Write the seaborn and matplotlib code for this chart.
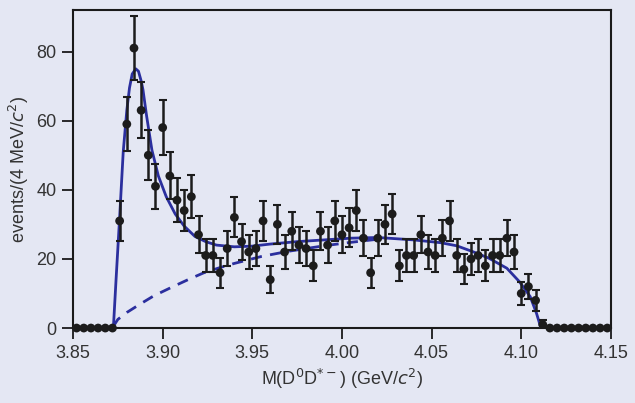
import numpy as np
import pandas as pd
import matplotlib
matplotlib.use('Agg')
import matplotlib.pyplot as plt
import seaborn as sns

# Data: 4 MeV bins from 3.852 to 4.148 GeV
bin_centers = np.round(np.arange(3.852, 4.1495, 0.004), 3)
counts = [0, 0, 0, 0, 0, 0,
          31, 59, 81, 63, 50, 41, 58, 44, 37, 34, 38, 27, 21, 21,
          16, 23, 32, 25, 22, 23, 31, 14, 30, 22, 28, 24, 23, 18,
          28, 24, 31, 27, 29, 34, 26, 16, 26, 30, 33, 18, 21, 21,
          27, 22, 21, 26, 31, 21, 17, 20, 21, 18, 21, 21, 26, 22,
          10, 12, 8, 1,
          0, 0, 0, 0, 0, 0, 0, 0, 0]
errors = [0, 0, 0, 0, 0, 0,
          5.8, 7.9, 9.2, 8.1, 7.2, 6.6, 7.9, 6.8, 6.3, 6.0, 6.3, 5.4, 4.8, 4.8,
          4.3, 5.0, 5.8, 5.2, 4.9, 5.0, 5.8, 4.0, 5.7, 4.9, 5.5, 5.1, 5.0, 4.5,
          5.5, 5.1, 5.8, 5.4, 5.6, 6.0, 5.3, 4.3, 5.3, 5.7, 5.9, 4.5, 4.8, 4.8,
          5.4, 4.9, 4.8, 5.3, 5.8, 4.8, 4.4, 4.7, 4.8, 4.5, 4.8, 4.8, 5.3, 4.9,
          3.4, 3.7, 3.0, 1.2,
          0, 0, 0, 0, 0, 0, 0, 0, 0]

# Total fit (solid) and background (dashed)
fit_x = [3.8725, 3.874, 3.876, 3.878, 3.880, 3.8815, 3.883, 3.885, 3.8865,
         3.888, 3.889, 3.891, 3.894, 3.8976, 3.902, 3.907, 3.912, 3.918,
         3.924, 3.930, 3.940, 3.950, 3.960, 3.975, 3.990, 4.005, 4.020,
         4.040, 4.055, 4.064, 4.073, 4.082, 4.092, 4.099, 4.105, 4.1085, 4.111]
fit_y = [0, 14, 32, 51, 63, 69.5, 73.5, 75, 74.3,
         71.5, 69, 61.5, 51.5, 44, 38, 33, 29.5, 26.5,
         25, 24, 23.5, 23.7, 24.3, 25, 25.5, 26, 26.2,
         25.5, 24.7, 23.8, 22.1, 20.2, 17.3, 13.4, 9.1, 4.3, 0]
bkg_x = [3.8725, 3.875, 3.880, 3.887, 3.895, 3.905, 3.915, 3.923, 3.932,
         3.940, 3.955, 3.970, 3.990, 4.005, 4.025]
bkg_y = [0.5, 2.5, 4.5, 6.8, 9.3, 11.8, 14.2, 16, 17.5,
         18.7, 20.7, 22.2, 23.8, 24.8, 26.0]

df = pd.DataFrame({'mass': bin_centers, 'events': counts, 'err': errors})
fit = pd.DataFrame({'mass': fit_x, 'events': fit_y})
bkg = pd.DataFrame({'mass': bkg_x, 'events': bkg_y})

bg = '#e4e7f3'
line_col = '#2b2f9e'

sns.set_theme(style='ticks')
plt.rcParams['font.family'] = ['Liberation Sans Narrow', 'Liberation Sans', 'DejaVu Sans']
plt.rcParams['mathtext.fontset'] = 'custom'
plt.rcParams['mathtext.rm'] = 'Liberation Sans Narrow'
plt.rcParams['mathtext.it'] = 'Liberation Sans Narrow:italic'

fig = plt.figure(figsize=(6.35, 4.03), dpi=100, facecolor=bg)
ax = fig.add_axes([0.115, 0.186, 0.847, 0.789])
ax.set_facecolor(bg)

sns.lineplot(data=bkg, x='mass', y='events', ax=ax, color=line_col, lw=2,
             linestyle=(0, (4, 3)), sort=False, estimator=None, zorder=2)
sns.lineplot(data=fit, x='mass', y='events', ax=ax, color=line_col, lw=2,
             sort=False, estimator=None, zorder=3)

nz = df[df['events'] > 0]
ax.errorbar(nz['mass'], nz['events'], yerr=nz['err'], fmt='none',
            ecolor='#1c1c1c', elinewidth=1.8, capsize=3, capthick=1.5, zorder=4)
sns.scatterplot(data=df, x='mass', y='events', ax=ax, color='#1c1c1c',
                s=40, edgecolor='none', zorder=5, clip_on=False)

ax.set_xlim(3.85, 4.15)
ax.set_ylim(0, 92)
ax.set_xticks([3.85, 3.90, 3.95, 4.00, 4.05, 4.10, 4.15])
ax.set_xticklabels(['3.85', '3.90', '3.95', '4.00', '4.05', '4.10', '4.15'])
ax.set_yticks([0, 20, 40, 60, 80])

for s in ax.spines.values():
    s.set_color('#1a1a1a')
    s.set_linewidth(1.5)
ax.tick_params(axis='both', direction='out', length=8, width=1.3,
               color='#1a1a1a', labelsize=13, labelcolor='#333333', pad=4)

ax.set_xlabel(r'M(D$^0$D$^{*-}$) (GeV/$c^2$)', fontsize=13, color='#333333', labelpad=4)
ax.set_ylabel(r'events/(4 MeV/$c^2$)', fontsize=13, color='#333333', labelpad=4)

fig.savefig('out.png', dpi=100, facecolor=bg)
plt.close(fig)
